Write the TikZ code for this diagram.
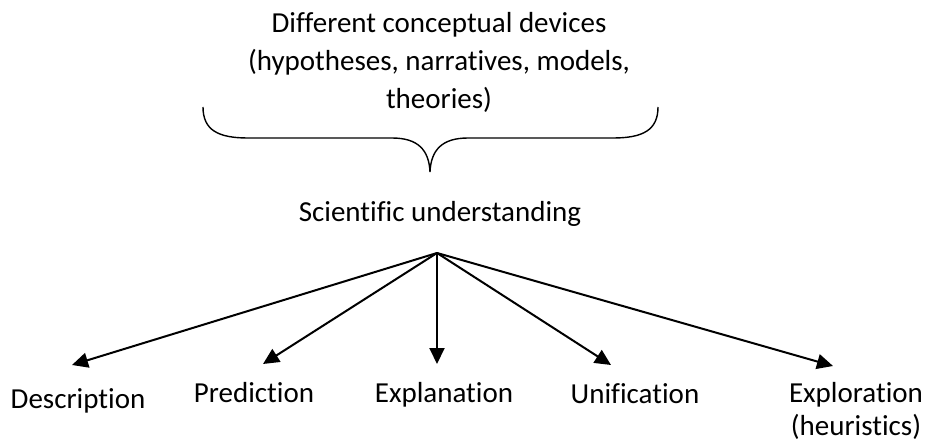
\documentclass[tikz,border=0pt]{standalone}
\usepackage{fontspec}
\setmainfont{Carlito}[Ligatures=NoCommon]
\usetikzlibrary{arrows.meta}
\begin{document}
\begin{tikzpicture}[x=1pt,y=-1pt,
  lbl/.style={font=\fontsize{29}{38}\selectfont, inner sep=0pt, anchor=base, align=center},
  tightlbl/.style={lbl, font=\fontsize{29}{32.5}\selectfont},
  branch/.style={line width=2pt, -{Triangle[length=16pt,width=15pt]}},
  bracestroke/.style={line width=1.4pt}]
\useasboundingbox (0,0) rectangle (927,441);

% heading above the brace (base anchor sits on the last line)
\node[lbl] (devices) at (439,109) {Different conceptual devices\\(hypotheses, narratives, models,\\theories)};

% curly brace gathering the devices
\draw[bracestroke] (203,107) .. controls (203,130) and (218,138) .. (248,138)
  -- (392,138) .. controls (418,138) and (429,150) .. (430,172)
  .. controls (431,150) and (442,138) .. (468,138)
  -- (613,138) .. controls (643,138) and (658,130) .. (658,107);

\node[lbl] (understanding) at (440,222) {Scientific understanding};

% hub from which the branches leave
\coordinate (hub) at (437,253);

% labels of the branches
\node[lbl] (description) at (78,408) {Description};
\node[lbl] (prediction) at (254,402) {Prediction};
\node[lbl] (explanation) at (444,402) {Explanation};
\node[lbl] (unification) at (635,403) {Unification};
\node[tightlbl] (exploration) at (856,435) {Exploration\\(heuristics)};

% arrow tips just above the labels
\coordinate (tipD) at (72,365);
\coordinate (tipP) at (263,364);
\coordinate (tipE) at (437,364);
\coordinate (tipU) at (611,365);
\coordinate (tipX) at (833,366);

\draw[branch] (hub) -- (tipD);
\draw[branch] (hub) -- (tipP);
\draw[branch] (hub) -- (tipE);
\draw[branch] (hub) -- (tipU);
\draw[branch] (hub) -- (tipX);
\end{tikzpicture}
\end{document}
